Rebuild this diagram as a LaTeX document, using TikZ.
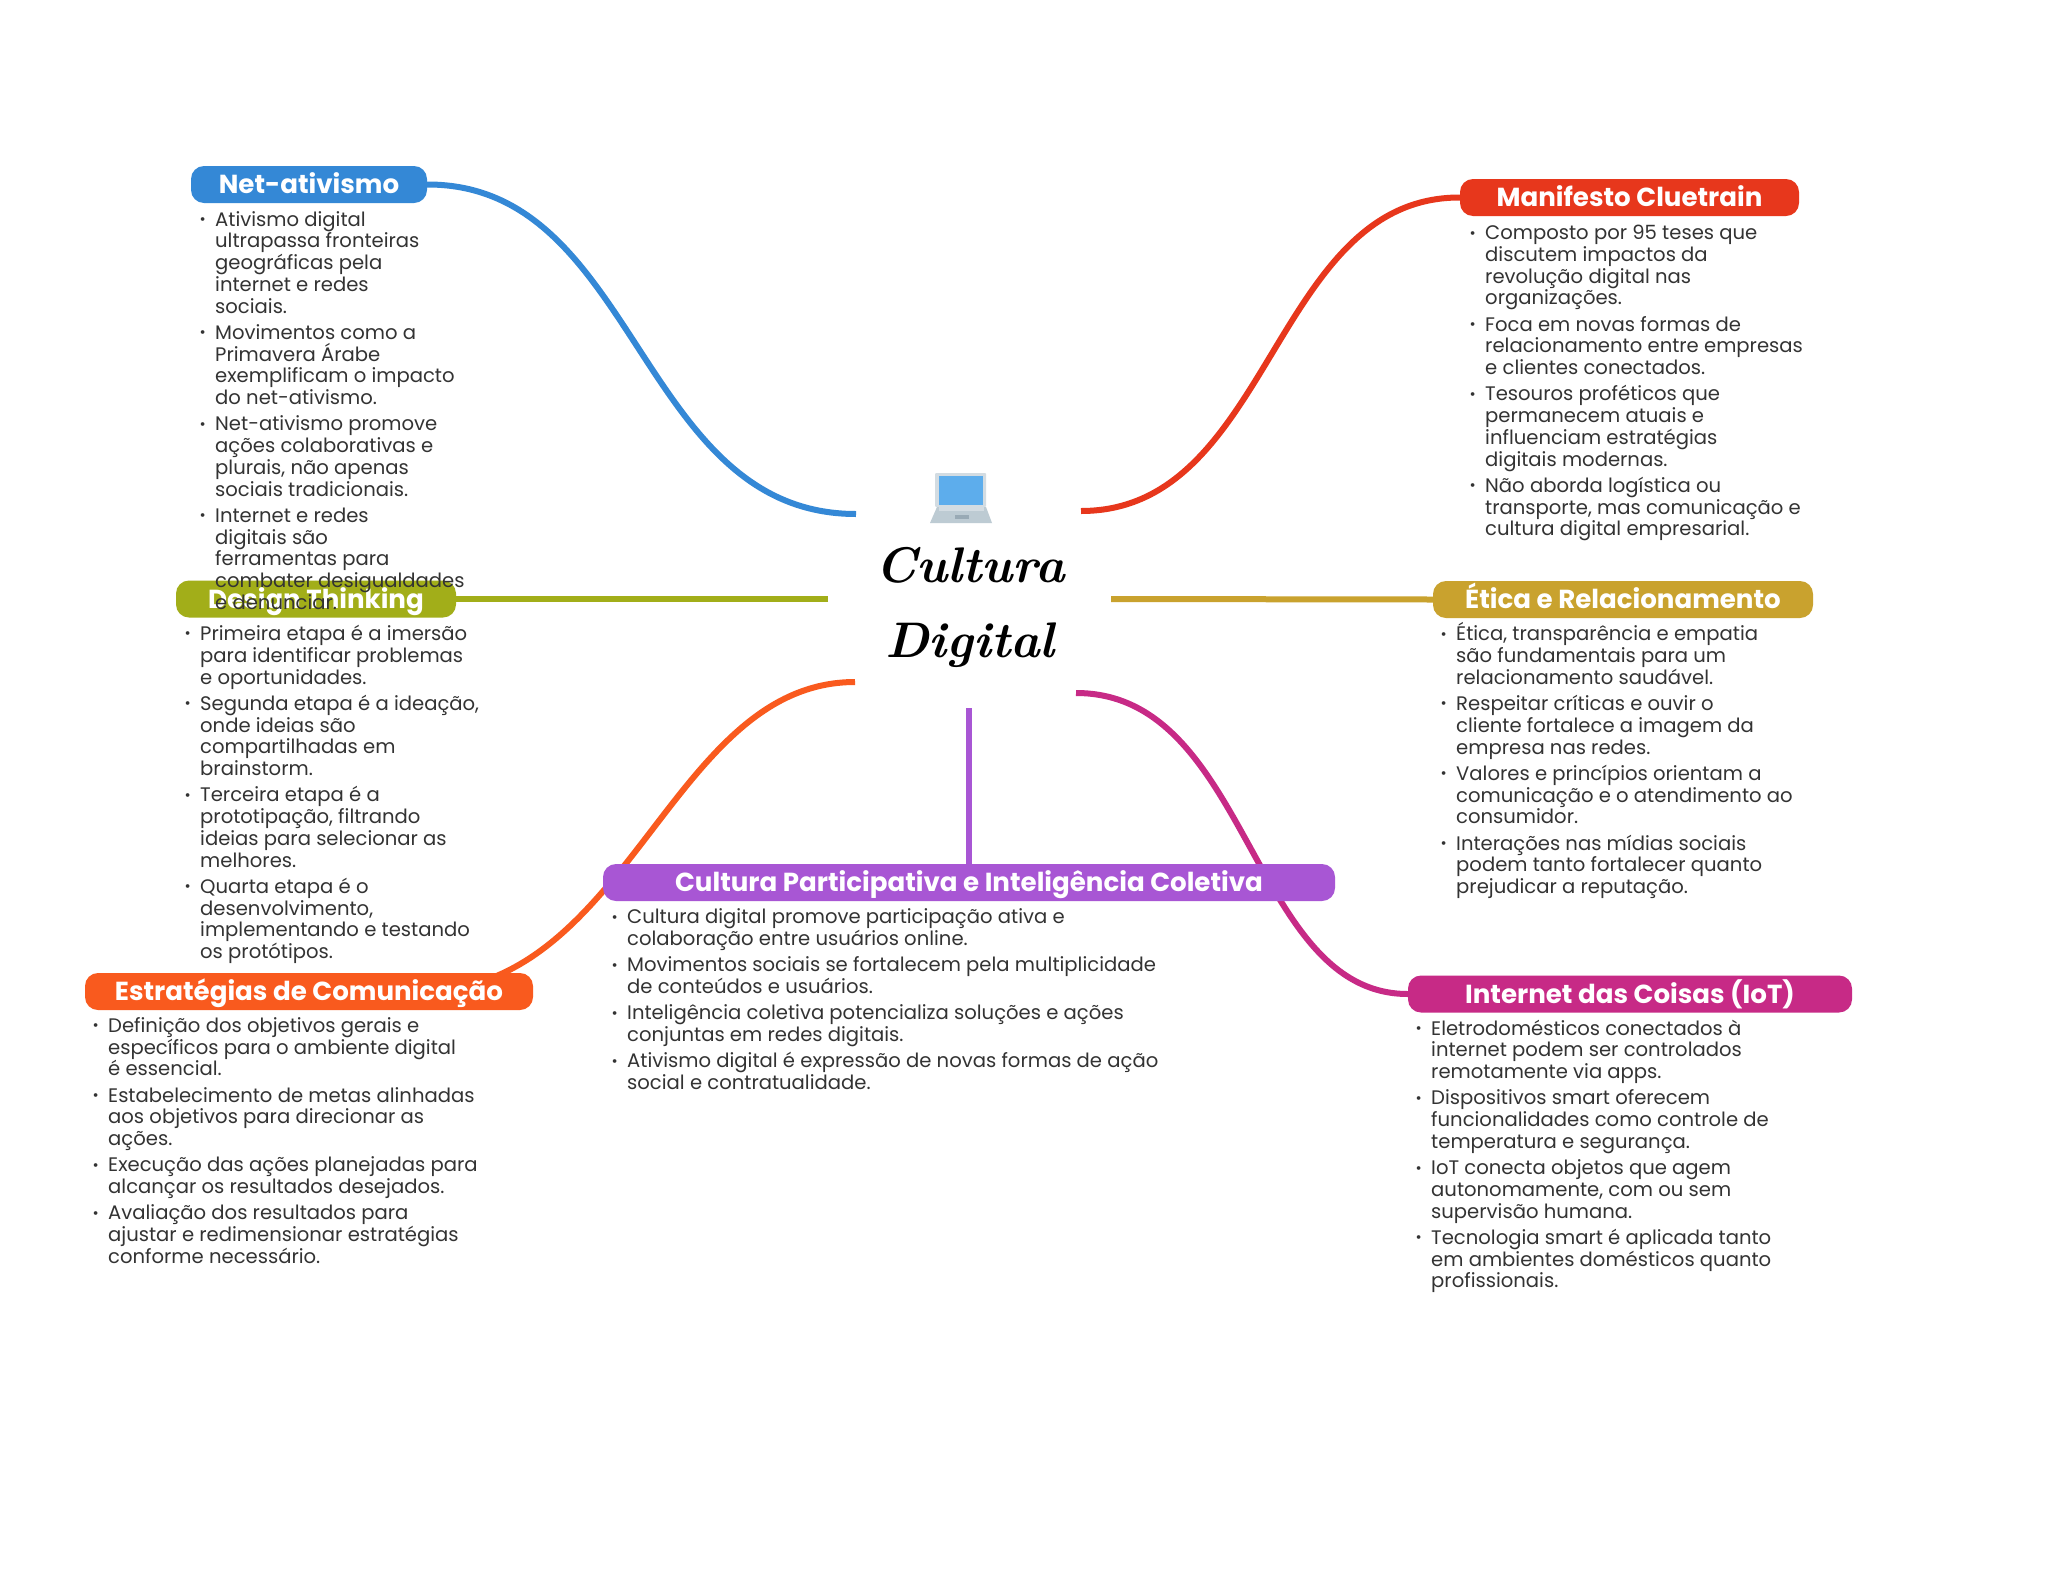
\documentclass[tikz,border=0pt]{standalone}
\usepackage{fontspec}
\setmainfont{Poppins}
\newfontfamily\centerfont{Latin Modern Roman}
\usetikzlibrary{shapes,calc}

\definecolor{netblue}{HTML}{3488D6}
\definecolor{clueredc}{HTML}{E7371C}
\definecolor{designolive}{HTML}{A2AE19}
\definecolor{eticagold}{HTML}{C9A22E}
\definecolor{estorange}{HTML}{F95A1E}
\definecolor{partpurple}{HTML}{A856D4}
\definecolor{iotmagenta}{HTML}{C72A86}
\definecolor{bodygray}{HTML}{333333}
\definecolor{screenblue}{HTML}{5DADEC}
\definecolor{framegray}{HTML}{D3DCE2}
\definecolor{basegray}{HTML}{BDCBD3}
\definecolor{notchgray}{HTML}{99AAB5}

\newcommand{\bul}{\strut\llap{\raisebox{1.6pt}{\fontsize{15}{15}\selectfont\textbullet}\hspace{9.5pt}}}
\newcommand{\listfont}{\fontsize{19.6}{21.75}\selectfont\setlength{\lineskiplimit}{-30pt}\relax}

\tikzset{
branch/.style={line width=6pt},
titlebox/.style={rounded corners=13pt,inner sep=0pt,minimum height=37pt,text height=18pt,text depth=0pt,text=white,font=\fontsize{26.1}{30}\selectfont\bfseries},
bodylist/.style={anchor=north west,inner sep=0pt,align=left,text=bodygray,font=\listfont},
}

\begin{document}
\begin{tikzpicture}[x=1pt,y=-1pt]
\useasboundingbox (0,0) rectangle (2048,1569);
\fill[white] (0,0) rectangle (2048,1569);

\coordinate (hubnet) at (856,514);
\coordinate (hubclue) at (1081,511);
\coordinate (hubdesign) at (828,599);
\coordinate (hubetica) at (1111,599);
\coordinate (hubest) at (855,682);
\coordinate (hubpart) at (969,708);
\coordinate (hubiot) at (1076,693);

\path (309,184.5) node[minimum width=236pt] (net) {};
\path (1629.5,197.5) node[minimum width=339pt] (clue) {};
\path (316,599) node[minimum width=280pt] (design) {};
\path (1623,599.5) node[minimum width=380pt] (etica) {};
\path (309,991.5) node[minimum width=448pt] (est) {};
\path (969,882.5) node[minimum width=732pt] (part) {};
\path (1630,994) node[minimum width=444pt] (iot) {};

\draw[branch,netblue] (hubnet) .. controls (638,514) and (638,184) .. (net.east);
\draw[branch,clueredc] (hubclue) .. controls (1272,511) and (1272,197) .. (clue.west);
\draw[branch,designolive] (hubdesign) -- (design.east);
\draw[branch,eticagold] (hubetica) -- (etica.west);
\draw[branch,estorange] (hubest) .. controls (670,682) and (630,991) .. ([xshift=-113pt]est.east);
\draw[branch,partpurple] (hubpart) -- (part.north);
\draw[branch,iotmagenta] (hubiot) .. controls (1250,693) and (1250,994) .. (iot.west);

% titles
\node[titlebox,minimum width=236pt,fill=netblue] at (net) {Net-ativismo};
\node[titlebox,minimum width=339pt,fill=clueredc] at (clue) {Manifesto Cluetrain};
\node[titlebox,minimum width=280pt,fill=designolive] at (design) {Design Thinking};
\node[titlebox,minimum width=380pt,fill=eticagold] at (etica) {Ética e Relacionamento};
\node[titlebox,minimum width=448pt,fill=estorange] at (est) {Estratégias de Comunicação};
\node[titlebox,minimum width=732pt,fill=partpurple] at (part) {Cultura Participativa e Inteligência Coletiva};
\node[titlebox,minimum width=444pt,fill=iotmagenta] at (iot) {Internet das Coisas (IoT)};

% laptop
\fill[framegray,rounded corners=1pt] (935,473) rectangle (986,507);
\fill[basegray] (937,507)--(986,507)--(992,523)--(930,523)--cycle;
\fill[framegray] (939,507) rectangle (984,511);
\fill[notchgray] (955,515) rectangle (969,519);
\fill[screenblue] (939,476) rectangle (983,505);

\node[font=\fontsize{50}{75}\selectfont\centerfont\itshape\bfseries,align=center,inner sep=0pt] (center) at (970,607) {Cultura\\Digital};

% lists
\node[bodylist] (netlist) at (215,210.7) {\bul Ativismo digital\\ultrapassa fronteiras\\geográficas pela\\internet e redes\\sociais.\\[4.5pt]
\bul Movimentos como a\\Primavera Árabe\\exemplificam o impacto\\do net-ativismo.\\[4.5pt]
\bul Net-ativismo promove\\ações colaborativas e\\plurais, não apenas\\sociais tradicionais.\\[4.5pt]
\bul Internet e redes\\digitais são\\ferramentas para\\combater desigualdades\\e denunciar.};

\node[bodylist] (cluelist) at (1485,224.3) {\bul Composto por 95 teses que\\discutem impactos da\\revolução digital nas\\organizações.\\[4.5pt]
\bul Foca em novas formas de\\relacionamento entre empresas\\e clientes conectados.\\[4.5pt]
\bul Tesouros proféticos que\\permanecem atuais e\\influenciam estratégias\\digitais modernas.\\[4.5pt]
\bul Não aborda logística ou\\transporte, mas comunicação e\\cultura digital empresarial.};

\node[bodylist] (designlist) at (200,625) {\bul Primeira etapa é a imersão\\para identificar problemas\\e oportunidades.\\[4.5pt]
\bul Segunda etapa é a ideação,\\onde ideias são\\compartilhadas em\\brainstorm.\\[4.5pt]
\bul Terceira etapa é a\\prototipação, filtrando\\ideias para selecionar as\\melhores.\\[4.5pt]
\bul Quarta etapa é o\\desenvolvimento,\\implementando e testando\\os protótipos.};

\node[bodylist] (eticalist) at (1456,622.4) {\bul Ética, transparência e empatia\\são fundamentais para um\\relacionamento saudável.\\[4.5pt]
\bul Respeitar críticas e ouvir o\\cliente fortalece a imagem da\\empresa nas redes.\\[4.5pt]
\bul Valores e princípios orientam a\\comunicação e o atendimento ao\\consumidor.\\[4.5pt]
\bul Interações nas mídias sociais\\podem tanto fortalecer quanto\\prejudicar a reputação.};

\node[bodylist] (partlist) at (627,908.3) {\bul Cultura digital promove participação ativa e\\colaboração entre usuários online.\\[4.5pt]
\bul Movimentos sociais se fortalecem pela multiplicidade\\de conteúdos e usuários.\\[4.5pt]
\bul Inteligência coletiva potencializa soluções e ações\\conjuntas em redes digitais.\\[4.5pt]
\bul Ativismo digital é expressão de novas formas de ação\\social e contratualidade.};

\node[bodylist] (estlist) at (108,1017) {\bul Definição dos objetivos gerais e\\específicos para o ambiente digital\\é essencial.\\[4.5pt]
\bul Estabelecimento de metas alinhadas\\aos objetivos para direcionar as\\ações.\\[4.5pt]
\bul Execução das ações planejadas para\\alcançar os resultados desejados.\\[4.5pt]
\bul Avaliação dos resultados para\\ajustar e redimensionar estratégias\\conforme necessário.};

\node[bodylist] (iotlist) at (1431,1019.7) {\bul Eletrodomésticos conectados à\\internet podem ser controlados\\remotamente via apps.\\[4.5pt]
\bul Dispositivos smart oferecem\\funcionalidades como controle de\\temperatura e segurança.\\[4.5pt]
\bul IoT conecta objetos que agem\\autonomamente, com ou sem\\supervisão humana.\\[4.5pt]
\bul Tecnologia smart é aplicada tanto\\em ambientes domésticos quanto\\profissionais.};

\end{tikzpicture}
\end{document}
